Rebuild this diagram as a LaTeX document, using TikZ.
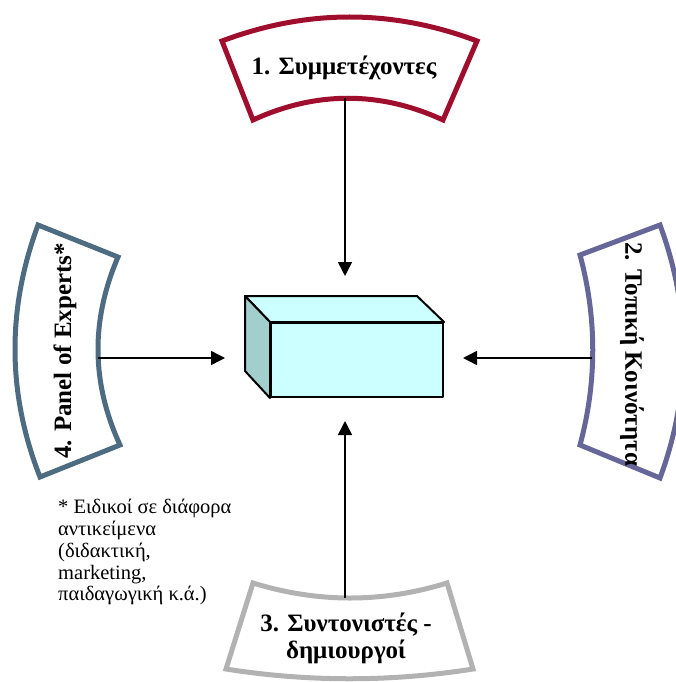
\documentclass[tikz,border=0pt]{standalone}
\usepackage{fontspec}
\setmainfont{Liberation Serif}
\usetikzlibrary{arrows.meta}

\definecolor{bandred}{RGB}{160,14,46}
\definecolor{bandpurple}{RGB}{102,102,153}
\definecolor{bandgray}{RGB}{178,178,178}
\definecolor{bandslate}{RGB}{77,108,130}
\definecolor{boxfront}{RGB}{204,255,255}
\definecolor{boxside}{RGB}{163,206,206}

\begin{document}
\begin{tikzpicture}[x=1pt,y=-1pt,
  band/.style={line width=5pt, fill=white},
  bandlabel/.style={font=\fontsize{25}{27}\selectfont\bfseries, inner sep=0pt, align=center},
  note/.style={font=\fontsize{20.5}{21.8}\selectfont, inner sep=0pt, align=left},
  face/.style={draw=black, line width=2pt, line join=round},
  arr/.style={line width=1.5pt, -{Triangle[length=14pt,width=14pt]}}
]
\useasboundingbox (0,0) rectangle (676,682);

% ---- curved bands ----
% 1: top
\draw[band, draw=bandred]
  (222,41) .. controls (307,9) and (392,9) .. (477,41)
  -- (443,120) .. controls (380,91) and (316,91) .. (253,120) -- cycle;
\coordinate (p1) at (345,98);
% 2: right
\draw[band, draw=bandpurple]
  (580,255) -- (660,225) .. controls (691,309) and (691,394) .. (660,478)
  -- (580,445) .. controls (597,382) and (597,318) .. (580,255) -- cycle;
\coordinate (p2) at (592,358);
% 3: bottom
\draw[band, draw=bandgray]
  (253,583) .. controls (318,603) and (382,603) .. (447,583)
  -- (473,669) .. controls (391,682) and (308,682) .. (226,669) -- cycle;
\coordinate (p3) at (345,598);
% 4: left
\draw[band, draw=bandslate]
  (38,225) -- (118,257) .. controls (91,320) and (91,382) .. (120,445)
  -- (40,477) .. controls (7,393) and (7,309) .. (38,225) -- cycle;
\coordinate (p4) at (98,358);

% ---- band labels ----
\node[bandlabel] (t1) at (344,68) {1. Συμμετέχοντες};
\node[bandlabel, rotate=-90] (t2) at (632,354) {2. Τοπική Κοινότητα};
\node[bandlabel] (t3) at (346,638) {3. Συντονιστές -\\δημιουργοί};
\node[bandlabel, rotate=90] (t4) at (65,351) {4. Panel of Experts*};

% ---- footnote ----
\node[note, anchor=north west] (fn) at (58,499)
  {* Ειδικοί σε διάφορα\\αντικείμενα\\(διδακτική,\\marketing,\\παιδαγωγική κ.ά.)};

% ---- central box ----
\node[face, fill=boxfront, minimum width=172pt, minimum height=74pt, inner sep=0pt]
  (box) at (357,360) {};
\filldraw[face, fill=boxfront]
  (box.north west) -- ++(-25,-26) -- ++(172,0) -- (box.north east) -- cycle;
\filldraw[face, fill=boxside]
  (box.north west) -- ++(-25,-26) -- ++(0,75) -- (box.south west) -- cycle;

% ---- connectors ----
\draw[arr, shorten >=46pt] (p1) -- (p1 |- box.north);
\draw[arr, shorten >=23pt] (p3) -- (p3 |- box.south);
\draw[arr, shorten >=45pt] (p4) -- (p4 -| box.west);
\draw[arr, shorten >=19pt] (p2) -- (p2 -| box.east);
\end{tikzpicture}
\end{document}
